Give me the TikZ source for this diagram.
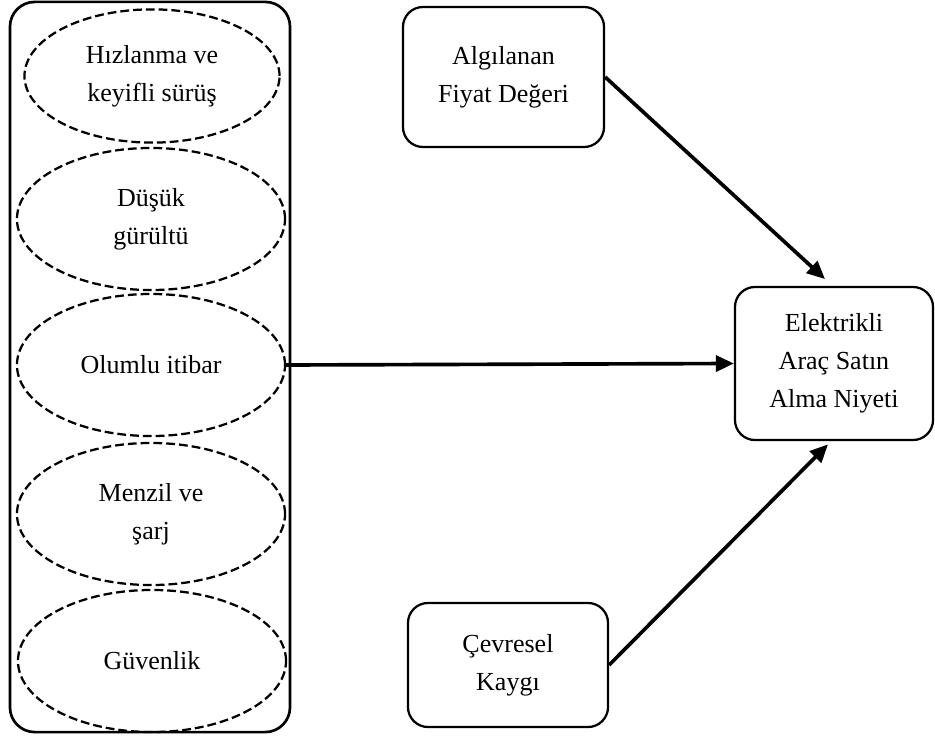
\documentclass[tikz,border=0pt]{standalone}
\usepackage{fontspec}
\setmainfont{Liberation Serif}
\usetikzlibrary{shapes.geometric,arrows.meta}

\begin{document}
\begin{tikzpicture}[x=0.025cm,y=-0.025cm,
  every node/.style={font=\fontsize{18.5}{27}\selectfont,align=center},
  factor/.style={draw,ellipse,dash pattern=on 0.22cm off 0.1cm,line width=1.6pt,
    inner sep=0pt,minimum width=6.7cm,minimum height=3.55cm},
  construct/.style={draw,rounded corners=0.5cm,line width=1.6pt,inner sep=0pt},
  path/.style={line width=2.6pt,-{Triangle[length=0.45cm,width=0.4cm]}}]
  \useasboundingbox (0,0) rectangle (935,736);

  % grup
  \node[draw,rounded corners=0.62cm,line width=1.9pt,minimum width=7cm,
    minimum height=18.25cm] (group) at (150,367) {};

  % faktörler
  \node[factor,minimum width=6.375cm,minimum height=3.33cm] (speed) at (152,76)
    {Hızlanma ve\\keyifli sürüş};
  \node[factor] (noise) at (151,219) {Düşük\\gürültü};
  \node[factor] (image) at (151,365) {Olumlu itibar};
  \node[factor] (range) at (151,514) {Menzil ve\\şarj};
  \node[factor] (safety) at (152,661) {Güvenlik};

  % kutular
  \node[construct,minimum width=5.025cm,minimum height=3.5cm] (price) at (503.5,77)
    {Algılanan\\Fiyat Değeri};
  \node[construct,minimum width=5cm,minimum height=3.1cm] (concern) at (508,665)
    {Çevresel\\Kaygı};
  \node[construct,minimum width=4.95cm,minimum height=3.825cm] (intention) at (834,363.5)
    {Elektrikli\\Araç Satın\\Alma Niyeti};

  % oklar
  \draw[path] (image.east) -- (intention.west);
  \draw[path] (price.east) -- ([xshift=-0.225cm,yshift=0.17cm]intention.north);
  \draw[path] (concern.east) -- ([xshift=-0.15cm,yshift=-0.08cm]intention.south);
\end{tikzpicture}
\end{document}
